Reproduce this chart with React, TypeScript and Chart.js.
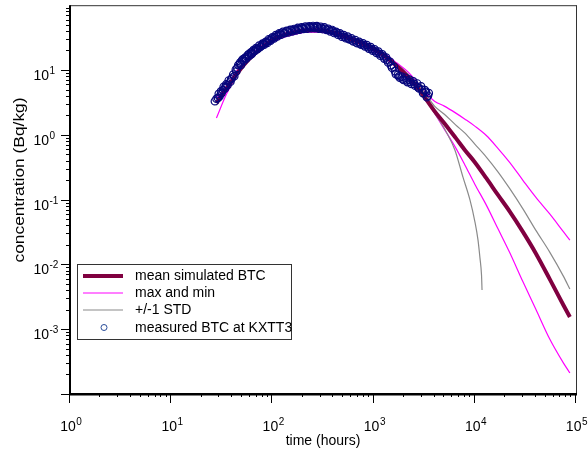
import React, { useEffect, useRef } from "react";
import { Chart, registerables } from "chart.js";

Chart.register(...registerables);

// ---------- data ----------
const simTimes = [28, 35, 45, 60, 80, 100, 130, 170, 220, 280, 350, 450, 600, 800, 1000, 1300, 1700, 2200, 2800, 3300, 4000, 5000, 6500, 8000, 10000, 13000, 17000, 22000, 30000, 40000, 55000, 75000, 87000];
const meanVals = [3.08, 5.06, 8.93, 15.2, 22.5, 28.9, 34.5, 38.4, 41.2, 41.2, 39.7, 35.7, 29.9, 25.1, 21.0, 16.4, 11.5, 7.77, 5.06, 3.55, 2.32, 1.51, 0.888, 0.579, 0.378, 0.214, 0.117, 0.0664, 0.0315, 0.0149, 0.00593, 0.00236, 0.00154];
const maxVals = [3.67, 5.6, 10.0, 16.4, 24.0, 31.0, 36.5, 41.0, 42.7, 42.7, 41.0, 36.5, 32.0, 26.9, 22.5, 17.6, 12.8, 9.26, 6.04, 4.39, 3.30, 2.77, 2.16, 1.74, 1.36, 0.974, 0.614, 0.379, 0.197, 0.109, 0.060, 0.032, 0.0237];
const minVals = [1.81, 4.17, 8.47, 14.7, 21.0, 26.9, 32.1, 35.7, 38.4, 38.4, 37.1, 33.3, 28.9, 23.3, 19.5, 15.2, 10.7, 6.97, 5.07, 3.42, 2.16, 1.22, 0.623, 0.340, 0.173, 0.0822, 0.0351, 0.0155, 0.00533, 0.00205, 0.000705, 0.000302, 0.000211];
const stdUpVals = [3.30, 5.43, 9.59, 15.8, 23.3, 29.9, 35.7, 39.7, 41.9, 41.9, 40.6, 36.3, 31.0, 25.9, 21.7, 16.9, 12.3, 8.63, 5.84, 4.2, 2.77, 2.08, 1.41, 1.06, 0.718, 0.453, 0.266, 0.150, 0.0713, 0.0338, 0.0155, 0.00660, 0.00416];
const stdLowTimes = [28, 35, 45, 60, 80, 100, 130, 170, 220, 280, 350, 450, 600, 800, 1000, 1300, 1700, 2200, 2800, 3300, 4000, 4530, 5310, 6370, 7640, 8970, 10040, 10760, 11250, 11650, 11790];
const stdLowVals = [2.86, 4.71, 8.62, 14.7, 21.7, 27.9, 33.3, 37.1, 39.7, 39.7, 38.4, 34.5, 28.9, 24.2, 20.2, 15.8, 11.1, 7.48, 5.24, 3.8, 2.16, 1.62, 1.06, 0.579, 0.222, 0.0982, 0.0450, 0.0237, 0.0125, 0.00684, 0.00402];

const measTimes = [27, 28, 29.5, 30, 31, 32.5, 33, 34, 35, 36, 37, 38.5, 40, 41, 42, 43.5, 45, 46, 47.5, 49, 50, 52, 54, 55, 57, 59, 61, 63, 65, 67, 69, 72, 74, 77, 80, 83, 86, 89, 92, 96, 100, 104, 108, 112, 117, 122, 127, 132, 138, 144, 150, 157, 164, 171, 178, 186, 194, 203, 212, 221, 231, 241, 252, 263, 275, 287, 300, 313, 327, 342, 357, 373, 390, 407, 425, 444, 464, 485, 507, 530, 554, 578, 604, 631, 660, 690, 720, 752, 786, 821, 858, 897, 937, 979, 1023, 1069, 1117, 1167, 1220, 1275, 1332, 1392, 1455, 1520, 1588, 1660, 1735, 1813, 1895, 1980, 2069, 2162, 2260, 2362, 2468, 2579, 2695, 2816, 2943, 3076, 3214, 3359, 3510,
  29, 31.5, 34.5, 39, 44, 48, 51, 53, 56, 58, 62, 64, 68, 71, 75, 79, 82, 88, 94, 98, 106, 115, 120, 130, 141, 155, 168, 182, 198, 216, 236, 258, 281, 306, 334, 364, 398, 434, 474, 518, 566, 617, 675, 736, 803, 877, 958, 1046, 1142, 1247, 1362, 1485, 1625, 1780, 1940, 2115, 2310, 2520, 2750, 3000, 3290, 3450];
const measConc = [3.3, 3.6, 4.3, 3.9, 4.7, 4.9, 5.5, 5.2, 6.0, 5.8, 6.9, 6.6, 7.6, 8.5, 8.0, 10.2, 10.8, 11.9, 12.4, 12.0, 14.0, 13.8, 15.6, 14.9, 16.8, 16.4, 18.6, 18.0, 20.4, 19.6, 21.9, 21.5, 23.8, 23.0, 25.5, 24.5, 27.3, 26.2, 29.9, 28.4, 32.0, 30.8, 34.5, 33.0, 36.8, 35.0, 38.9, 36.9, 40.2, 38.0, 41.8, 39.5, 43.0, 40.6, 44.6, 41.8, 45.8, 43.0, 46.8, 43.5, 47.4, 44.0, 47.8, 44.2, 47.5, 43.5, 46.6, 42.8, 45.4, 41.5, 43.4, 39.5, 41.5, 37.2, 38.9, 35.0, 36.8, 32.6, 34.6, 31.0, 32.9, 29.5, 30.9, 27.6, 29.0, 25.9, 27.3, 24.6, 25.8, 23.1, 24.3, 21.4, 22.6, 19.9, 20.8, 18.3, 19.2, 16.6, 17.4, 15.0, 15.6, 13.1, 13.4, 10.8, 11.2, 8.6, 8.4, 7.6, 7.9, 7.0, 7.6, 6.5, 7.1, 6.1, 6.7, 5.7, 6.2, 5.2, 5.6, 4.4, 4.9, 3.8, 4.4,
  3.7, 4.4, 5.6, 7.2, 9.5, 13.0, 14.6, 15.0, 16.0, 17.5, 17.6, 19.4, 20.8, 20.9, 22.4, 24.3, 25.4, 27.0, 28.9, 30.5, 32.5, 34.6, 36.5, 37.2, 39.4, 41.2, 41.9, 43.3, 44.4, 45.3, 45.9, 46.0, 45.5, 44.8, 43.3, 41.8, 39.7, 37.4, 34.8, 32.6, 30.4, 28.6, 26.6, 25.5, 24.2, 22.6, 21.0, 19.5, 17.8, 16.3, 14.2, 11.8, 9.6, 8.0, 7.2, 6.9, 6.5, 6.1, 5.4, 5.0, 4.6, 4.0];

const xExponents = [0, 1, 2, 3, 4, 5];
const yExponents = [1, 0, -1, -2, -3];
const xTitle = "time (hours)";
const yTitle = "concentration (Bq/kg)";
const legendLabels = ["mean simulated BTC", "max and min", "+/-1 STD", "measured BTC at KXTT3"];

const FONT = '"Liberation Sans", Arial, Helvetica, sans-serif';
const C_MEAN = "#800040";
const C_MAG = "#ff00ff";
const C_GRAY = "#8a8a8a";
const C_MEAS = "#06067c";

const pts = (xs: number[], ys: number[]) => xs.map((x, i) => ({ x, y: ys[i] }));

const framePlugin = {
  id: "frameAndLabels",
  afterDraw(chart: any) {
    const { ctx, chartArea: ca, scales } = chart;
    const xs = scales.x;
    const ys = scales.y;
    ctx.save();

    // top and right frame (thin)
    ctx.lineWidth = 1;
    ctx.strokeStyle = "#333";
    ctx.beginPath();
    ctx.moveTo(ca.left, ca.top + 0.5);
    ctx.lineTo(ca.right + 0.5, ca.top + 0.5);
    ctx.moveTo(ca.right + 0.5, ca.top);
    ctx.lineTo(ca.right + 0.5, ca.bottom);
    ctx.stroke();

    // left & bottom axes (thick)
    ctx.fillStyle = "#000";
    ctx.fillRect(ca.left - 1, ca.top, 2, ca.bottom - ca.top + 1);
    ctx.fillRect(ca.left - 1, ca.bottom - 1, ca.right - ca.left + 2, 2.5);

    // ticks
    ctx.strokeStyle = "#000";
    ctx.lineWidth = 1;
    ctx.beginPath();
    for (let e = -4; e <= 1; e++) {
      for (let m = 1; m <= 9; m++) {
        const v = m * Math.pow(10, e);
        if (v < 1e-4 * 0.999 || v > 100 * 1.001) continue;
        const py = Math.round(ys.getPixelForValue(v)) + 0.5;
        const len = m === 1 ? 9 : 4;
        ctx.moveTo(ca.left - len, py);
        ctx.lineTo(ca.left, py);
      }
    }
    for (let e = 0; e <= 5; e++) {
      for (let m = 1; m <= 9; m++) {
        const v = m * Math.pow(10, e);
        if (v > 1e5 * 1.001) continue;
        const px = Math.round(xs.getPixelForValue(v)) - 0.5;
        const len = m === 1 ? 9 : 3;
        ctx.moveTo(px, ca.bottom);
        ctx.lineTo(px, ca.bottom + len);
      }
    }
    ctx.stroke();

    // tick labels
    ctx.fillStyle = "#000";
    ctx.textBaseline = "alphabetic";
    for (const e of yExponents) {
      const py = ys.getPixelForValue(Math.pow(10, e));
      ctx.font = `14px ${FONT}`;
      ctx.textAlign = "right";
      ctx.fillText("10", 49, py + 10);
      ctx.font = `10px ${FONT}`;
      ctx.textAlign = "left";
      ctx.fillText(String(e), 49.5, py + 4);
    }
    for (const e of xExponents) {
      const px = xs.getPixelForValue(Math.pow(10, e));
      ctx.font = `14px ${FONT}`;
      const bw = ctx.measureText("10").width;
      ctx.font = `10px ${FONT}`;
      const ew = ctx.measureText(String(e)).width;
      let left = px - 2 - bw / 2;
      if (left + bw + ew > 587) left = 587 - bw - ew;
      ctx.font = `14px ${FONT}`;
      ctx.textAlign = "left";
      ctx.fillText("10", left, 431);
      ctx.font = `10px ${FONT}`;
      ctx.fillText(String(e), left + bw + 0.5, 425);
    }

    // axis titles
    ctx.font = `14px ${FONT}`;
    ctx.textAlign = "center";
    ctx.fillText(xTitle, (ca.left + ca.right) / 2, 445);
    ctx.save();
    ctx.translate(24, 180);
    ctx.rotate(-Math.PI / 2);
    const tw = ctx.measureText(yTitle).width;
    ctx.scale(165 / tw, 1);
    ctx.textBaseline = "alphabetic";
    ctx.fillText(yTitle, 0, 0);
    ctx.restore();

    // legend
    const bx = 77.5, by = 264.5, bw2 = 214, bh = 75;
    ctx.fillStyle = "#fff";
    ctx.fillRect(bx, by, bw2, bh);
    ctx.strokeStyle = "#333";
    ctx.lineWidth = 1;
    ctx.strokeRect(bx, by, bw2, bh);
    const rows = [276, 293, 310, 327.5];
    const ds = chart.data.datasets;
    const sample = [ds[1], ds[2], ds[4], ds[0]];
    for (let i = 0; i < 4; i++) {
      const d: any = sample[i];
      const y = rows[i];
      if (i < 3) {
        ctx.strokeStyle = d.borderColor;
        ctx.lineWidth = d.borderWidth;
        ctx.beginPath();
        ctx.moveTo(83, y);
        ctx.lineTo(123, y);
        ctx.stroke();
      } else {
        ctx.strokeStyle = "#2a4d9a";
        ctx.lineWidth = 1;
        ctx.beginPath();
        ctx.arc(104, y, 3, 0, Math.PI * 2);
        ctx.stroke();
      }
      ctx.fillStyle = "#000";
      ctx.font = `14px ${FONT}`;
      ctx.textAlign = "left";
      ctx.textBaseline = "middle";
      ctx.fillText(legendLabels[i], 135, y + 0.5);
    }
    ctx.restore();
  },
};

export default function App() {
  const ref = useRef<HTMLCanvasElement | null>(null);

  useEffect(() => {
    if (!ref.current) return;
    const lineBase = { pointRadius: 0, fill: false, cubicInterpolationMode: "monotone" as const };
    const chart = new Chart(ref.current, {
      type: "line",
      data: {
        datasets: [
          {
            label: legendLabels[3],
            data: pts(measTimes, measConc),
            showLine: false,
            pointRadius: 3.7,
            pointBorderWidth: 1.2,
            pointBorderColor: C_MEAS,
            pointBackgroundColor: "rgba(0,0,0,0)",
            borderColor: C_MEAS,
            order: 0,
          },
          { label: legendLabels[0], data: pts(simTimes, meanVals), borderColor: C_MEAN, borderWidth: 4, order: 1, ...lineBase },
          { label: legendLabels[1], data: pts(simTimes, maxVals), borderColor: C_MAG, borderWidth: 1.2, order: 3, ...lineBase },
          { label: legendLabels[1], data: pts(simTimes, minVals), borderColor: C_MAG, borderWidth: 1.2, order: 3, ...lineBase },
          { label: legendLabels[2], data: pts(simTimes, stdUpVals), borderColor: C_GRAY, borderWidth: 1.2, order: 2, ...lineBase },
          { label: legendLabels[2], data: pts(stdLowTimes, stdLowVals), borderColor: C_GRAY, borderWidth: 1.2, order: 2, ...lineBase },
        ] as any,
      },
      options: {
        animation: false,
        responsive: false,
        devicePixelRatio: 1,
        layout: { padding: { left: 70, top: 5, right: 12, bottom: 60 } },
        scales: {
          x: { type: "logarithmic", min: 1, max: 100000, display: false },
          y: { type: "logarithmic", min: 0.0001, max: 100, display: false },
        },
        plugins: { legend: { display: false }, tooltip: { enabled: false } },
        events: [],
      },
      plugins: [framePlugin],
    });
    return () => chart.destroy();
  }, []);

  return (
    <div style={{ position: "absolute", left: 0, top: 0, width: 588, height: 454, background: "#fff" }}>
      <canvas ref={ref} width={588} height={454} style={{ display: "block", width: 588, height: 454 }} />
    </div>
  );
}
